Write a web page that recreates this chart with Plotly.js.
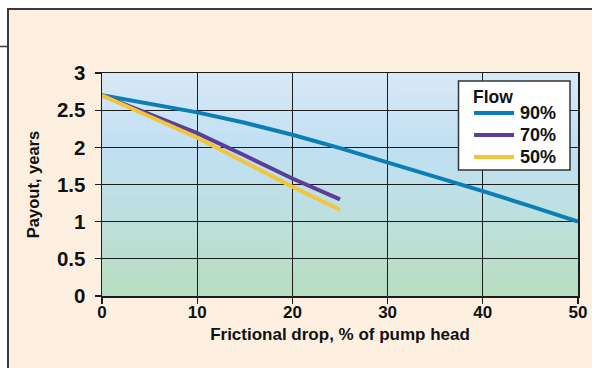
<!DOCTYPE html>
<html><head><meta charset="utf-8">
<script src="https://cdn.plot.ly/plotly-3.0.1.min.js"></script>
<style>html,body{margin:0;padding:0;background:#fff}#chart{width:592px;height:368px}</style>
</head><body><div id="chart"></div>
<script>
// ---- data ----
const frictionalDrop90 = [0, 5, 10, 15, 20, 25, 30, 35, 40, 45, 50];
const payout90 = [2.70, 2.59, 2.47, 2.33, 2.17, 1.99, 1.80, 1.61, 1.41, 1.21, 1.00];
const frictionalDrop70 = [0, 5, 10, 15, 20, 25];
const payout70 = [2.70, 2.45, 2.19, 1.89, 1.58, 1.30];
const frictionalDrop50 = [0, 5, 10, 15, 20, 25];
const payout50 = [2.70, 2.42, 2.13, 1.80, 1.47, 1.16];
const seriesNames = ['90%', '70%', '50%'];
const xTickVals = [0, 10, 20, 30, 40, 50];
const xTickText = ['0', '10', '20', '30', '40', '50'];
const yTickVals = [0, 0.5, 1, 1.5, 2, 2.5, 3];
const yTickText = ['0', '0.5', '1', '1.5', '2', '2.5', '3'];
const xTitle = 'Frictional drop, % of pump head';
const yTitle = 'Payout, years';
const legendTitle = 'Flow';

// ---- layout geometry ----
const W = 592, H = 368;
const M = {l: 102, r: 14, t: 73, b: 72};
const PW = W - M.l - M.r, PH = H - M.t - M.b;
const px = v => (v - M.l) / PW;
const py = v => (H - M.b - v) / PH;

// gradient background for plot area
function gradientURL() {
  const c = document.createElement('canvas');
  c.width = 4; c.height = 256;
  const g = c.getContext('2d');
  const lg = g.createLinearGradient(0, 0, 0, 256);
  lg.addColorStop(0, '#d9e9f6');
  lg.addColorStop(0.33, '#c1e0f4');
  lg.addColorStop(0.55, '#bee0e6');
  lg.addColorStop(0.75, '#bcdfd5');
  lg.addColorStop(1, '#b8dec0');
  g.fillStyle = lg; g.fillRect(0, 0, 4, 256);
  return c.toDataURL('image/png');
}

const colors = ['#0a7fb6', '#5a3f98', '#f2c53a'];
const font = {family: 'Liberation Sans', color: '#111', weight: 700};
const f = s => Object.assign({}, font, {size: s});

const traces = [
  {x: frictionalDrop90, y: payout90, name: seriesNames[0]},
  {x: frictionalDrop70, y: payout70, name: seriesNames[1]},
  {x: frictionalDrop50, y: payout50, name: seriesNames[2]}
].map((t, i) => Object.assign(t, {
  type: 'scatter', mode: 'lines', line: {color: colors[i], width: 4},
  hoverinfo: 'skip', showlegend: false
}));

const frame = '#3a3a3a';
const shapes = [
  {type: 'rect', xref: 'paper', yref: 'paper', x0: px(-5), x1: px(W + 5), y0: py(-5), y1: py(9), fillcolor: '#ffffff', line: {width: 0}, layer: 'below'},
  {type: 'rect', xref: 'paper', yref: 'paper', x0: px(-5), x1: px(8), y0: py(-5), y1: py(H + 5), fillcolor: '#ffffff', line: {width: 0}, layer: 'below'},
  {type: 'line', xref: 'paper', yref: 'paper', x0: px(7), x1: px(W + 2), y0: py(9), y1: py(9), line: {color: frame, width: 2}},
  {type: 'line', xref: 'paper', yref: 'paper', x0: px(8), x1: px(8), y0: py(8), y1: py(H + 2), line: {color: frame, width: 2}},
  {type: 'line', xref: 'paper', yref: 'paper', x0: px(-2), x1: px(8), y0: py(46.5), y1: py(46.5), line: {color: frame, width: 1.5}}
];

// ---- legend (box, title, entries) ----
const LG = {x0: 458.5, x1: 570, y0: 81, y1: 170, titleX: 472, titleY: 97,
            lineX0: 474, lineX1: 514, textX: 519, rowY0: 113, rowGap: 22};
shapes.push({type: 'rect', xref: 'paper', yref: 'paper', x0: px(LG.x0), x1: px(LG.x1),
  y0: py(LG.y1), y1: py(LG.y0), fillcolor: '#ffffff', line: {color: '#333', width: 1.5}});
const annotations = [{
  xref: 'paper', yref: 'paper', x: px(LG.titleX), y: py(LG.titleY), xanchor: 'left', yanchor: 'middle',
  text: legendTitle, showarrow: false, font: f(17.5), borderpad: 0
}];
seriesNames.forEach((name, i) => {
  const yy = LG.rowY0 + i * LG.rowGap;
  shapes.push({type: 'line', xref: 'paper', yref: 'paper', x0: px(LG.lineX0), x1: px(LG.lineX1),
    y0: py(yy), y1: py(yy), line: {color: colors[i], width: 4}});
  annotations.push({xref: 'paper', yref: 'paper', x: px(LG.textX), y: py(yy), xanchor: 'left', yanchor: 'middle',
    text: name, showarrow: false, font: f(18), borderpad: 0});
});

const axisCommon = {
  showgrid: true, gridcolor: '#1c1c1c', gridwidth: 1.3,
  showline: true, mirror: true, linecolor: '#1c1c1c', linewidth: 1.5,
  ticks: 'outside', ticklen: 6, tickwidth: 1.3, tickcolor: '#1c1c1c',
  zeroline: false, fixedrange: true
};

const layout = {
  width: W, height: H,
  margin: M,
  paper_bgcolor: '#fdf0e1',
  plot_bgcolor: '#d0e6f3',
  showlegend: false,
  xaxis: Object.assign({}, axisCommon, {
    range: [0, 50], tickmode: 'array', tickvals: xTickVals, ticktext: xTickText,
    tickfont: f(17), ticklabelstandoff: -6,
    title: {text: xTitle, font: f(17), standoff: 7}
  }),
  yaxis: Object.assign({}, axisCommon, {
    range: [0, 3], tickmode: 'array', tickvals: yTickVals, ticktext: yTickText,
    tickfont: f(20.5),
    ticklabelstandoff: 5,
    title: {text: yTitle, font: f(16.5), standoff: 13}
  }),
  images: [{
    source: gradientURL(), xref: 'paper', yref: 'paper', x: 0, y: 1, sizex: 1, sizey: 1,
    xanchor: 'left', yanchor: 'top', sizing: 'stretch', layer: 'below'
  }],
  shapes: shapes,
  annotations: annotations
};

Plotly.newPlot('chart', traces, layout, {staticPlot: true, displayModeBar: false});
</script>
</body></html>
